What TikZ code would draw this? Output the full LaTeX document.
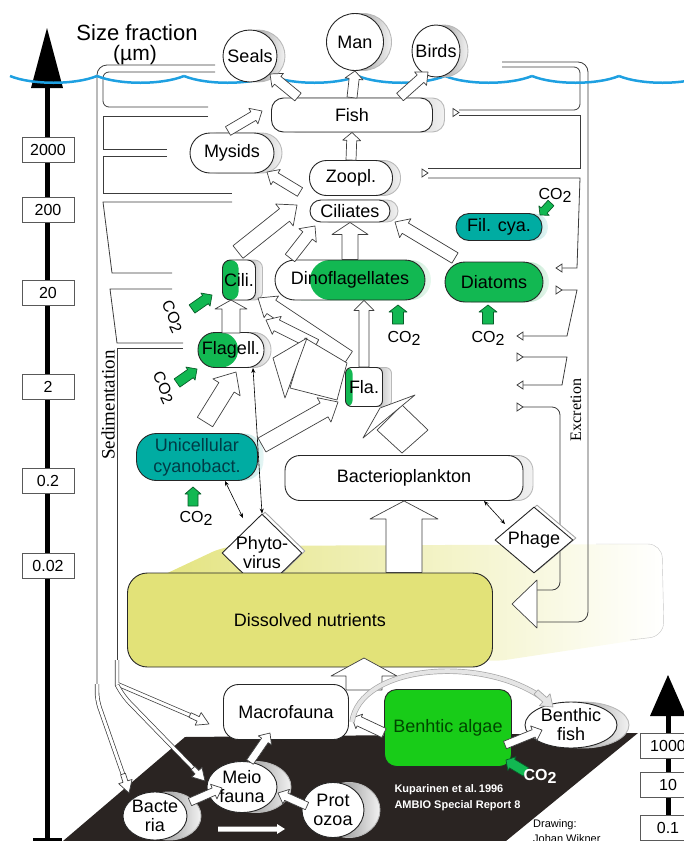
\documentclass[tikz,border=0pt]{standalone}
\usepackage{fontspec}
\setmainfont{Liberation Sans}
\newfontfamily\romanfont{Liberation Serif}
\usetikzlibrary{shapes.geometric,shadows,calc,arrows.meta}

\definecolor{water}{RGB}{30,160,225}
\definecolor{phyto}{RGB}{18,184,82}
\definecolor{cyano}{RGB}{0,172,162}
\definecolor{cyanotext}{RGB}{0,60,70}
\definecolor{nutri}{RGB}{226,226,120}
\definecolor{seabed}{RGB}{42,36,34}
\definecolor{algae}{RGB}{24,204,24}
\definecolor{algaetext}{RGB}{0,70,0}
\definecolor{frame}{RGB}{60,60,60}

\newcommand{\setfs}[1]{\fontsize{#1}{#1}\selectfont}
\newcommand{\cotwo}{CO\raisebox{-0.35ex}{2}}
% block arrow: [style]{from}{to}{shaft half width}{head half width}{head length}
\newcommand{\blockflow}[6][]{%
  \coordinate (fh) at ($(#3)!#6pt!(#2)$);
  \filldraw[flowarrow,#1] ($(#2)!#4pt!90:(#3)$) -- ($(fh)!#4pt!90:(#3)$)
    -- ($(fh)!#5pt!90:(#3)$) -- (#3) -- ($(fh)!#5pt!-90:(#3)$)
    -- ($(fh)!#4pt!-90:(#3)$) -- ($(#2)!#4pt!-90:(#3)$) -- cycle;}
% small open triangle: {tip}{1 = points left, -1 = points right}
\newcommand{\outlet}[2]{\draw[fixline,fill=white] (#1) -- ++(#2*6,-4) -- ++(0,8) -- cycle;}

\tikzset{
  organism/.style={draw=black!85, fill=white, line width=0.9pt, align=center,
    inner sep=0pt, font=\fontsize{18}{21}\selectfont},
  rim/.style={general shadow={shadow xshift=#1, shadow yshift=0pt,
    left color=gray!80!black, right color=gray!10, draw=gray!55}},
  rim/.default=8pt,
  greenrim/.style={general shadow={shadow xshift=6pt, shadow yshift=0pt,
    left color=phyto!80!black, right color=phyto!10, draw=none}},
  tealrim/.style={general shadow={shadow xshift=6pt, shadow yshift=0pt,
    left color=cyano!80!black, right color=cyano!10, draw=none}},
  blob/.style={organism, ellipse},
  pill/.style={organism, rectangle, rounded corners=#1},
  inlabel/.style={label={[font=\fontsize{18}{19}\selectfont, align=center]center:#1}},
  greenleft/.style={path picture={\fill[phyto] (path picture bounding box.south west)
    rectangle ([xshift=#1]path picture bounding box.north west);}},
  greenright/.style={path picture={\fill[phyto] ([xshift=#1]path picture bounding box.south west)
    rectangle (path picture bounding box.north east);}},
  lysis/.style={organism, diamond, general shadow={shadow xshift=3pt, shadow yshift=2pt,
    draw=gray!70, fill=white}},
  scalebox/.style={draw=black!65, fill=white, minimum width=52pt, minimum height=25pt,
    inner sep=0pt, font=\setfs{16}},
  flowarrow/.style={draw=black!75, fill=white, line width=0.7pt, line join=round},
  carbon/.style={fill=phyto, draw=phyto!50!black},
  fixline/.style={draw=frame, line width=0.8pt},
  pipe/.style={draw=frame, line width=0.7pt, double=white, double distance=3pt},
  thinlink/.style={line width=0.6pt, {Stealth[length=5pt,width=4pt]}-{Stealth[length=5pt,width=4pt]}},
}

\begin{document}
\begin{tikzpicture}[x=1pt,y=-1pt]
\useasboundingbox (0,0) rectangle (683,841);

% nutrient glow and sea floor
\shade[left color=nutri, right color=white, rounded corners=14pt]
  (127,592) -- (225,546) -- (662,544) -- (664,636) -- (492,662) -- cycle;
\draw[gray!45, rounded corners=14pt] (596,544) -- (662,544) -- (664,636) -- (630,640);
\fill[seabed] (185,737) -- (638,733) -- (506,841) -- (63,841) -- cycle;

% size axes
\draw[line width=5pt] (47,80) -- (47,841);
\fill (47,28) -- (63,88) -- (31,88) -- cycle;
\draw[line width=3pt] (33,839.5) -- (62,839.5);
\draw[line width=5pt] (668,712) -- (668,841);
\fill (668,675) -- (686,716) -- (650,716) -- cycle;
\foreach \val/\ypos [count=\i] in {2000/150,200/210,20/293,2/387,0.2/481,0.02/566}
  \node[scalebox] (size\i) at (48,\ypos) {\val};
\foreach \val/\ypos [count=\i] in {1000/746,10/785,0.1/828}
  \node[scalebox, minimum width=56pt] (depth\i) at (668,\ypos) {\val};
\node[font=\setfs{22}, inner sep=0pt] (title) at (137,33) {Size fraction};
\node[font=\setfs{21}, inner sep=0pt] (unit) at (135,55) {(µm)};

% sedimentation frame
\draw[fixline, rounded corners=10pt] (215,65) -- (97,65) -- (97,690);
\draw[fixline, rounded corners=6pt] (215,72) -- (103,72) -- (103,107) -- (208,107);
\draw[fixline] (208,116) -- (103,116) -- (103,149) -- (167,149);
\draw[fixline] (167,156) -- (103,156) -- (103,193) -- (232,193);
\draw[fixline] (232,202) -- (103,202) -- (112,273) -- (172,273);
\draw[fixline] (172,289) -- (110,289) -- (117,343) -- (183,343);
\draw[fixline] (183,348) -- (117,348) -- (117,670);
\node[font=\romanfont\setfs{19}, rotate=90] (sedi) at (108,405) {Sedimentation};

% excretion frame
\draw[fixline, rounded corners=10pt] (502,62) -- (588,62) -- (588,622) -- (537,622);
\draw[fixline, rounded corners=6pt] (502,67) -- (580,67) -- (580,110) -- (459,110);
\draw[fixline] (459,115) -- (580,115) -- (580,168) -- (428,168);
\draw[fixline] (428,178) -- (580,178) -- (577,268) -- (562,268);
\draw[fixline] (562,290) -- (577,290) -- (567,336) -- (523,336);
\draw[fixline] (523,357) -- (567,357) -- (562,385) -- (523,385);
\draw[fixline, rounded corners=8pt] (523,407) -- (560,407) -- (560,590) -- (537,590);
\outlet{459,112.5}{-1}
\outlet{428,173}{-1}
\outlet{556,268}{1}
\outlet{562,290}{-1}
\outlet{517,336}{1}
\outlet{523,357}{-1}
\outlet{517,385}{1}
\outlet{523,407}{-1}
\draw[flowarrow] (537,580) -- (537,628) -- (512,604) -- cycle;
\node[font=\romanfont\setfs{16}, rotate=90] (excr) at (576,410) {Excretion};

% sea surface
\foreach \p in {10,97,...,619}
  \draw[water, line width=2.5pt] (\p,76) .. controls (\p+22,85) and (\p+65,85) .. (\p+87,76);

% pelagic food web
\node[blob, rim, minimum width=54pt, minimum height=52pt, inlabel=Seals] (seals) at (250,56) {};
\node[blob, rim, minimum width=57pt, minimum height=57pt, inlabel=Man] (man) at (355,42) {};
\node[blob, rim, minimum width=48pt, minimum height=52pt, inlabel=Birds] (birds) at (436,51) {};
\node[pill=12pt, rim=12pt, minimum width=161pt, minimum height=34pt] (fish) at (352,115) {Fish};
\node[pill=20pt, rim, minimum width=84pt, minimum height=40pt] (mysids) at (232,153) {Mysids};
\node[pill=17pt, rim, minimum width=83pt, minimum height=35pt] (zoopl) at (351,178) {Zoopl.};
\node[pill=11pt, rim, minimum width=80pt, minimum height=22pt] (ciliates) at (350,211) {Ciliates};
\node[pill=13pt, tealrim, fill=cyano, minimum width=86pt, minimum height=27pt] (filcya) at (499,227) {Fil. cya.};
\node[pill=8pt, rim=7pt, greenleft=16pt, minimum width=33pt, minimum height=40pt] (cili) at (239,280) {Cili.};
\node[pill=20pt, greenrim, greenright=35pt, minimum width=150pt, minimum height=40pt] (dino) at (350,280) {Dinoflagellates};
\node[pill=20pt, greenrim, fill=phyto, minimum width=98pt, minimum height=40pt] (diatoms) at (494,282) {Diatoms};
\node[pill=17pt, rim=7pt, greenleft=40pt, minimum width=66pt, minimum height=35pt] (flagell) at (231,350) {Flagell.};
\node[pill=6pt, rim=9pt, greenleft=7pt, minimum width=37pt, minimum height=39pt] (fla) at (364,387) {Fla.};
\node[pill=20pt, tealrim, fill=cyano, text=cyanotext, minimum width=121pt, minimum height=47pt] (cyano) at (197,457) {Unicellular\\cyanobact.};
\node[lysis, minimum width=80pt, minimum height=78pt, inlabel={Phyto-\\virus}] (phyto) at (262,553) {};
\node[pill=15pt, rim=10pt, minimum width=238pt, minimum height=45pt] (bacterio) at (404,478) {Bacterioplankton};
\node[lysis, minimum width=78pt, minimum height=66pt, inlabel=Phage] (phage) at (534,540) {};
\node[pill=20pt, fill=nutri, minimum width=365pt, minimum height=94pt] (nutrients) at (310,620) {Dissolved nutrients};

% benthic food web
\node[pill=15pt, minimum width=125pt, minimum height=55pt] (macro) at (286,712) {Macrofauna};
\node[pill=12pt, fill=algae, text=algaetext, minimum width=127pt, minimum height=77pt] (algae) at (448,728) {Benhtic algae};
\node[blob, rim=12pt, minimum width=92pt, minimum height=46pt, inlabel={Benthic\\fish}] (bfish) at (571,725) {};
\node[blob, rim=14pt, minimum width=70pt, minimum height=51pt, inlabel={Meio\\fauna}] (meio) at (242,787) {};
\node[blob, rim=14pt, minimum width=64pt, minimum height=48pt, inlabel={Bacte\\ria}] (bacteria) at (155,816) {};
\node[blob, rim=16pt, minimum width=62pt, minimum height=55pt, inlabel={Prot\\ozoa}] (protozoa) at (333,810) {};

% predators
\blockflow{298,97}{270,74}{5}{9}{10}
\blockflow{fish.north}{man.south}{5}{9}{8}
\blockflow{400,97}{428,72}{5}{9}{10}
\blockflow{228,131}{262,111}{5}{9}{10}
\blockflow{zoopl.north}{fish.south}{5}{9}{8}
\blockflow{300,192}{267,172}{5}{9}{10}
% grazing
\blockflow{238,252}{297,205}{8}{14}{16}
\blockflow{290,258}{315,226}{6}{11}{12}
\blockflow{dino.north}{ciliates.south}{8}{18}{12}
\blockflow{455,258}{395,222}{6}{11}{12}
\blockflow{231,333}{231,300}{9}{16}{9}
\coordinate (flatop) at (fla.north |- dino.south);
\blockflow{fla.north}{flatop}{5}{10}{10}
\blockflow{348,358}{258,298}{8}{13}{16}
\blockflow{316,345}{266,320}{6}{10}{12}
\blockflow{205,422}{236,372}{9}{16}{18}
\blockflow{262,445}{338,402}{8}{14}{16}
\draw[flowarrow] (305,338) -- (347,363) -- (337,400) -- (290,388) -- cycle;
\draw[flowarrow] (273,358) -- (307,338) -- (285,398) -- cycle;
\draw[flowarrow] (377,430) -- (402,453) -- (428,430) -- (402,405) -- cycle;
\draw[flowarrow] (363,438) -- (415,395) -- (380,408) -- cycle;
% microbial loop
\coordinate (bpin) at (bacterio.south |- nutrients.north);
\blockflow{bpin}{bacterio.south}{18}{34}{18}
\blockflow{364,690}{364,658}{18}{33}{18}
\draw[thinlink] ([xshift=22pt]flagell.south) -- (phyto.north);
\draw[thinlink] ([xshift=28pt]cyano.south) -- (243,518);
\draw[thinlink] ([xshift=80pt]bacterio.south) -- (505,524);

% benthic flows
\blockflow{250,762}{270,733}{4}{8}{9}
\blockflow{190,802}{222,788}{4}{8}{9}
\blockflow{307,806}{278,793}{4}{8}{9}
\blockflow{505,745}{542,730}{4}{8}{9}
\blockflow{384,733}{352,718}{5}{8}{8}
\blockflow[draw=none]{218,829}{285,829}{2.5}{5}{8}
\draw[pipe, draw=gray!70, double=gray!20, double distance=4pt] (352,722) .. controls (360,665) and (480,655) .. (541,697);
\blockflow[fill=gray!20, draw=gray!70]{536,692}{553,707}{3}{8}{11}
\draw[pipe] (117,660) -- (117,684) -- (194,717);
\blockflow{190,715}{209,724}{2.5}{7}{12}
\draw[pipe, rounded corners=8pt] (117,685) -- (124,697) -- (196,771);
\blockflow{193,768}{205,781}{2.5}{7}{12}
\draw[pipe, rounded corners=8pt] (97,684) -- (97,700) -- (125,780);
\blockflow{123,774}{129,793}{2.5}{7}{12}

% carbon uptake
\blockflow[carbon]{551,203}{540,215}{4}{7}{6}
\blockflow[carbon]{398,324}{398,305}{5.5}{9}{7}
\blockflow[carbon]{488,324}{488,305}{5.5}{9}{7}
\blockflow[carbon]{192,309}{212,295}{5}{8}{8}
\blockflow[carbon]{177,383}{197,369}{5}{8}{8}
\blockflow[carbon]{193,506}{193,487}{5}{8}{7}
\blockflow[carbon]{526,772}{506,760}{5}{8}{7}
\node[font=\setfs{16}] (cofil) at (555,195) {\cotwo};
\node[font=\setfs{16}] (codino) at (404,338) {\cotwo};
\node[font=\setfs{16}] (codiat) at (488,338) {\cotwo};
\node[font=\setfs{16}, rotate=-65, inner sep=0pt] (cocili) at (172,317) {\cotwo};
\node[font=\setfs{16}, rotate=-65, inner sep=0pt] (coflag) at (163,388) {\cotwo};
\node[font=\setfs{16}] (cocyano) at (196,518) {\cotwo};
\node[font=\bfseries\setfs{16}, text=white] (coalgae) at (540,776) {\cotwo};

% credits
\node[font=\bfseries\fontsize{11}{16}\selectfont, text=white, align=left, anchor=west] (source) at (391,798) {Kuparinen et al.\,1996\\AMBIO Special Report 8};
\node[font=\fontsize{11}{15}\selectfont, align=left, anchor=north west, inner sep=0pt] (credit) at (533,819) {Drawing:\\Johan Wikner};
\end{tikzpicture}
\end{document}
